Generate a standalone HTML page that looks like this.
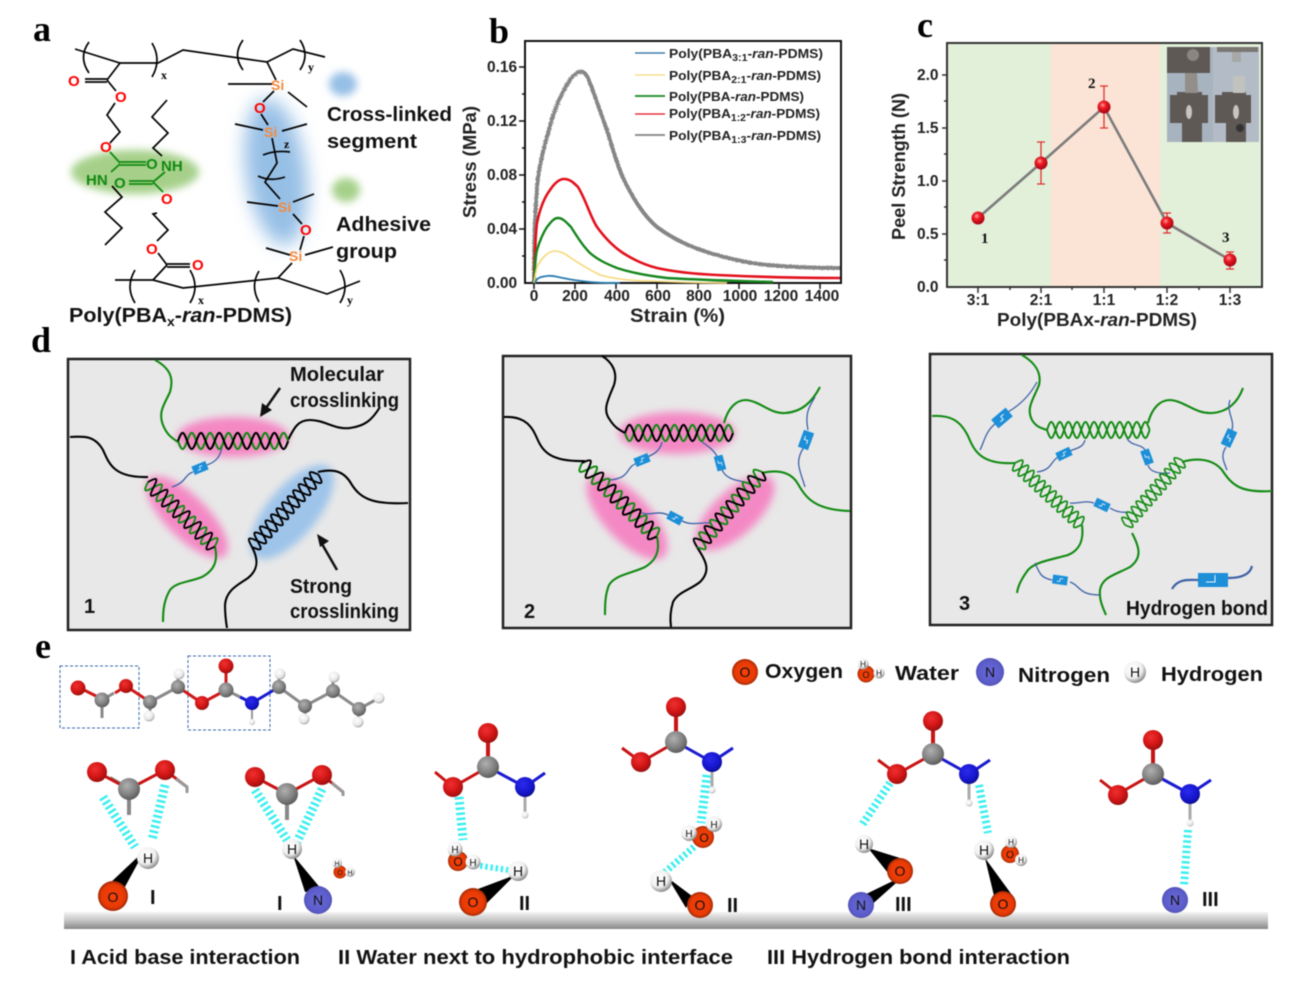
<!DOCTYPE html>
<html><head><meta charset="utf-8"><style>
html,body{margin:0;padding:0;background:#fff}
svg{display:block;filter:blur(.4px)}
text{font-family:"Liberation Sans",sans-serif}
.b{font-weight:bold}
.l{font-family:"Liberation Serif",serif;font-weight:bold;font-size:36px}
.t{font-weight:bold;font-size:20px;fill:#111}
.n{fill:none;stroke:#000;stroke-width:1.7}
.g{fill:none;stroke:#118a11;stroke-width:2.1}
.k{fill:none;stroke:#000;stroke-width:2.1}
.c{fill:none;stroke:#3d62a8;stroke-width:1.3}
.h{stroke:#36eef0;stroke-width:9;stroke-dasharray:2.4 2.8;fill:none}
.o2{fill:#f00;font-size:15px;font-weight:bold}
.si{fill:#f58a3c;font-size:14px;font-weight:bold}
.gt{fill:#118a11;font-size:15px;font-weight:bold}
.ax{font-weight:bold;font-size:15.5px;fill:#222}
.at{font-size:14px;fill:#111;text-anchor:middle}
</style></head><body>
<svg width="1316" height="987" viewBox="0 0 1316 987" xmlns="http://www.w3.org/2000/svg">
<defs>
<radialGradient id="rd" cx=".4" cy=".35" r=".7"><stop offset="0" stop-color="#f03030"/><stop offset=".6" stop-color="#d01414"/><stop offset="1" stop-color="#901010"/></radialGradient>
<radialGradient id="gy" cx=".4" cy=".35" r=".7"><stop offset="0" stop-color="#b0b0b0"/><stop offset=".6" stop-color="#808080"/><stop offset="1" stop-color="#555"/></radialGradient>
<radialGradient id="bl" cx=".4" cy=".35" r=".7"><stop offset="0" stop-color="#2a2af0"/><stop offset=".7" stop-color="#1414c8"/><stop offset="1" stop-color="#0c0c80"/></radialGradient>
<radialGradient id="wh" cx=".4" cy=".35" r=".7"><stop offset="0" stop-color="#fff"/><stop offset=".65" stop-color="#e8e8e8"/><stop offset="1" stop-color="#999"/></radialGradient>
<radialGradient id="ox" cx=".5" cy=".5" r=".55"><stop offset="0" stop-color="#f84008"/><stop offset=".7" stop-color="#e83a06"/><stop offset="1" stop-color="#7a2204"/></radialGradient>
<radialGradient id="nt" cx=".5" cy=".5" r=".55"><stop offset="0" stop-color="#6a6ad8"/><stop offset=".8" stop-color="#5a5ac8"/><stop offset="1" stop-color="#3c3c90"/></radialGradient>
<radialGradient id="hy" cx=".4" cy=".35" r=".7"><stop offset="0" stop-color="#fff"/><stop offset=".6" stop-color="#f0f0f0"/><stop offset="1" stop-color="#777"/></radialGradient>
<radialGradient id="rp" cx=".4" cy=".35" r=".7"><stop offset="0" stop-color="#ff9a9a"/><stop offset=".35" stop-color="#ee1c24"/><stop offset="1" stop-color="#a00010"/></radialGradient>
<linearGradient id="sf" x1="0" y1="0" x2="0" y2="1"><stop offset="0" stop-color="#f4f4f4"/><stop offset=".5" stop-color="#c4c4c4"/><stop offset="1" stop-color="#888"/></linearGradient>
<filter id="bl4" x="-30%" y="-50%" width="160%" height="200%"><feGaussianBlur stdDeviation="4"/></filter>
<filter id="bl8" x="-60%" y="-30%" width="220%" height="160%"><feGaussianBlur stdDeviation="9"/></filter>
<filter id="ns" x="-5%" y="-5%" width="110%" height="110%"><feTurbulence type="fractalNoise" baseFrequency=".9" numOctaves="1" seed="3"/><feDisplacementMap in="SourceGraphic" scale="3"/></filter>
<path id="s1" fill="none" d="M0,0c3.8,-10.7 5.2,-10.7 9,0s5.2,10.7 9,0s5.2,-10.7 9,0s5.2,10.7 9,0s5.2,-10.7 9,0s5.2,10.7 9,0s5.2,-10.7 9,0s5.2,10.7 9,0s5.2,-10.7 9,0s5.2,10.7 9,0s5.2,-10.7 9,0s5.2,10.7 9,0"/>
<path id="s2" fill="none" d="M0,0c3.8,10.7 5.2,10.7 9,0s5.2,-10.7 9,0s5.2,10.7 9,0s5.2,-10.7 9,0s5.2,10.7 9,0s5.2,-10.7 9,0s5.2,10.7 9,0s5.2,-10.7 9,0s5.2,10.7 9,0s5.2,-10.7 9,0s5.2,10.7 9,0s5.2,-10.7 9,0"/>
<g id="bk"><rect x="-7.5" y="-4.5" width="15" height="9" fill="#1c8fd8"/><path d="M-3,1.5h3v-3h3" fill="none" stroke="#e8f4ff" stroke-width=".8"/></g>
</defs>

<!-- labels -->
<text class="l" x="33" y="41">a</text>
<text class="l" x="489" y="43">b</text>
<text class="l" x="917" y="37">c</text>
<text class="l" x="31" y="352">d</text>
<text class="l" x="35" y="658">e</text>

<!-- PANEL A -->
<ellipse cx="135" cy="172" rx="64" ry="22" fill="#a6d08a" filter="url(#bl4)"/>
<ellipse cx="276" cy="172" rx="30" ry="74" fill="#96bfe6" filter="url(#bl8)" transform="rotate(-8 276 172)"/>
<ellipse cx="343" cy="84" rx="14" ry="12" fill="#96bfe6" filter="url(#bl4)"/>
<ellipse cx="346" cy="190" rx="14" ry="12" fill="#a6d08a" filter="url(#bl4)"/>
<g class="n">
<path class="n" d="M75,49L120,63H158L183,50L267,62L293,49L325,57"/>
<path class="n" d="M89,42Q78,57 89,73M152,43Q162,60 152,77M243,40Q232,55 243,70M300,40Q310,55 300,70"/>
<path class="n" d="M120,63L107,80M85,79H107M85,82H107M107,80L116,91"/>
<path class="n" d="M115,103L107,115L120,132L110,143"/>
<path class="n" d="M167,100L152,117L168,133L153,148L162,156"/>
<path class="n" d="M112,186L122,197L105,212L122,228L105,245"/>
<path class="n" d="M157,213L153,214L168,230L157,241M158,253L167,265M167,264H190M167,267H190M167,265L153,280"/>
<path class="n" d="M115,280H153L183,288L278,278L327,294L360,281"/>
<path class="n" d="M135,270Q125,287 135,303M190,270Q200,287 190,303M259,271Q250,286 259,302M340,270Q350,287 340,303"/>
<path class="n" d="M267,62L276,80M228,84H272M288,92L307,107M274,91L263,102M261,114L268,125M235,124L263,130M282,131L307,124"/>
<path class="n" d="M272,138L277,163L265,182L280,199M263,155Q275,150 290,152M258,176Q270,182 285,177"/>
<path class="n" d="M247,202L278,206M293,202L314,194M293,214L302,224M304,236L300,250M266,248L290,255M305,255L333,247M292,263L278,278"/>
</g>
<g fill="none" stroke="#118a11" stroke-width="1.8">
<path d="M110,152L120,163M120,162H146M120,165H146M120,164L111,172"/>
<path d="M165,172L153,182M129,181H153M129,184H153M153,182L163,192"/>
</g>
<text class="o2" x="68" y="86">O</text><text class="o2" x="115" y="102">O</text><text class="o2" x="100" y="152">O</text>
<text class="o2" x="146" y="169" style="fill:#118a11">O</text><text class="gt" x="161" y="171">NH</text><text class="gt" x="86" y="185">HN</text>
<text class="o2" x="114" y="188" style="fill:#118a11">O</text><text class="o2" x="161" y="204">O</text><text class="o2" x="146" y="254">O</text><text class="o2" x="192" y="270">O</text>
<text class="o2" x="254" y="113">O</text><text class="o2" x="300" y="235">O</text>
<text class="si" x="271" y="90">Si</text><text class="si" x="264" y="137">Si</text><text class="si" x="278" y="212">Si</text><text class="si" x="289" y="261">Si</text>
<g style="font-family:'Liberation Serif',serif;font-weight:bold;font-size:12px">
<text x="161" y="79" style="font-family:'Liberation Serif',serif">x</text><text x="308" y="71" style="font-family:'Liberation Serif',serif">y</text><text x="284" y="148" style="font-family:'Liberation Serif',serif">z</text><text x="198" y="304" style="font-family:'Liberation Serif',serif">x</text><text x="347" y="304" style="font-family:'Liberation Serif',serif">y</text>
</g>
<text class="t" x="327" y="121" textLength="125" lengthAdjust="spacingAndGlyphs">Cross-linked</text>
<text class="t" x="327" y="148" textLength="90" lengthAdjust="spacingAndGlyphs">segment</text>
<text class="t" x="336" y="231" textLength="95" lengthAdjust="spacingAndGlyphs">Adhesive</text>
<text class="t" x="336" y="258" textLength="61" lengthAdjust="spacingAndGlyphs">group</text>
<text class="t" x="69" y="322" textLength="223" lengthAdjust="spacingAndGlyphs">Poly(PBA<tspan dy="4" font-size="13">x</tspan><tspan dy="-4">-</tspan><tspan font-style="italic">ran</tspan>-PDMS)</text>

<!-- PANEL B -->
<rect x="525" y="41" width="316" height="242" fill="#fff" stroke="#111" stroke-width="2"/>
<path d="M525,67h-6M525,121h-6M525,175h-6M525,229h-6M534,283v6M575,283v6M616,283v6M657,283v6M698,283v6M739,283v6M779,283v6M820,283v6M525,94h-3M525,148h-3M525,202h-3M525,256h-3" stroke="#111" stroke-width="1.5" fill="none"/>
<text class="ax" x="487" y="72">0.16</text><text class="ax" x="487" y="126">0.12</text><text class="ax" x="487" y="180">0.08</text><text class="ax" x="487" y="234">0.04</text><text class="ax" x="487" y="288">0.00</text>
<g>
<text class="ax" x="534" y="301" text-anchor="middle">0</text><text class="ax" x="575" y="301" text-anchor="middle">200</text><text class="ax" x="617" y="301" text-anchor="middle">400</text><text class="ax" x="658" y="301" text-anchor="middle">600</text><text class="ax" x="699" y="301" text-anchor="middle">800</text><text class="ax" x="740" y="301" text-anchor="middle">1000</text><text class="ax" x="781" y="301" text-anchor="middle">1200</text><text class="ax" x="822" y="301" text-anchor="middle">1400</text>
</g>
<text class="b" x="630" y="322" font-size="19" fill="#222" textLength="95" lengthAdjust="spacingAndGlyphs">Strain (%)</text>
<text class="b" font-size="18" fill="#222" transform="translate(476,218) rotate(-90)" textLength="112" lengthAdjust="spacingAndGlyphs">Stress (MPa)</text>
<g fill="none" stroke-linejoin="round">
<path d="M534,283C534,240 535,205 538,177C541,160 544,146 548,133C552,118 556,106 561,96C566,86 571,76 577,73C582,70 585,72 588,78C594,92 600,112 607,130C613,150 618,167 624,180C634,200 644,216 657,227C673,239 690,247 710,253C730,259 748,263 767,265C790,267 815,268 840,268" stroke="#868686" stroke-width="4" filter="url(#ns)"/>
<path d="M534,283C535,255 535,238 537,223C540,208 544,198 550,190C554,184 559,179 564,179C570,179 574,183 578,187C586,200 590,216 597,227C605,238 614,247 623,253C634,260 645,265 657,268C675,272 695,274 717,275C760,277 800,278 840,278" stroke="#e3101c" stroke-width="2.6"/>
<path d="M534,283C535,268 535,258 537,250C540,240 543,233 547,227C551,222 554,218 558,218C563,218 567,223 571,227C578,238 583,246 590,253C598,260 607,264 617,268C632,273 650,276 667,278C700,280 740,281 773,282" stroke="#15861c" stroke-width="2.4"/>
<path d="M534,283C535,275 536,271 537,267C541,259 547,252 554,251C561,251 565,254 571,258C580,264 590,270 600,275C615,279 632,281 650,281C675,282 700,283 727,283" stroke="#f6d878" stroke-width="1.6"/>
<path d="M535,283C537,277 541,277 547,276C553,275 557,277 563,278C572,280 580,281 590,282C600,283 610,283 620,283" stroke="#2a7cb0" stroke-width="1.8"/>
</g>
<g stroke-width="1.3" fill="none"><path d="M635,53h30" stroke="#1c6a9c"/><path d="M635,75h30" stroke="#f5d878"/><path d="M635,96h30" stroke="#15861c" stroke-width="1.8"/><path d="M635,114h30" stroke="#e3101c"/><path d="M635,135h30" stroke="#909090" stroke-width="2"/></g>
<g class="b" font-size="13" fill="#222">
<text x="669" y="58" textLength="154" lengthAdjust="spacingAndGlyphs">Poly(PBA<tspan dy="3" font-size="10">3:1</tspan><tspan dy="-3">-</tspan><tspan font-style="italic">ran</tspan>-PDMS)</text>
<text x="669" y="80" textLength="152" lengthAdjust="spacingAndGlyphs">Poly(PBA<tspan dy="3" font-size="10">2:1</tspan><tspan dy="-3">-</tspan><tspan font-style="italic">ran</tspan>-PDMS)</text>
<text x="669" y="101" textLength="135" lengthAdjust="spacingAndGlyphs">Poly(PBA-<tspan font-style="italic">ran</tspan>-PDMS)</text>
<text x="669" y="118" textLength="151" lengthAdjust="spacingAndGlyphs">Poly(PBA<tspan dy="3" font-size="10">1:2</tspan><tspan dy="-3">-</tspan><tspan font-style="italic">ran</tspan>-PDMS)</text>
<text x="669" y="140" textLength="152" lengthAdjust="spacingAndGlyphs">Poly(PBA<tspan dy="3" font-size="10">1:3</tspan><tspan dy="-3">-</tspan><tspan font-style="italic">ran</tspan>-PDMS)</text>
</g>

<!-- PANEL C -->
<rect x="947" y="43" width="315" height="244" fill="#e2efd9"/>
<rect x="1051" y="43" width="109" height="244" fill="#fbe4d5"/>
<rect x="1167" y="47" width="92" height="95" fill="#a7b3bf"/>
<rect x="1213" y="47" width="46" height="95" fill="#b3bcc6"/>
<g fill="#5e5955">
<rect x="1167" y="47" width="43" height="26"/><rect x="1170" y="95" width="38" height="28"/><rect x="1177" y="92" width="25" height="5"/><rect x="1182" y="123" width="20" height="19"/>
<rect x="1217" y="47" width="41" height="5" fill="#7a7672"/><rect x="1215" y="95" width="36" height="28"/><rect x="1222" y="92" width="24" height="5"/><rect x="1226" y="123" width="20" height="19"/>
</g>
<path d="M1185,73h12l1,20h-13z" fill="#928e8a"/><rect x="1232" y="52" width="9" height="10" fill="#a8a8a8"/><rect x="1233" y="76" width="12" height="17" fill="#c2c2be"/>
<circle cx="1193" cy="55" r="6" fill="#8a8580"/><ellipse cx="1189" cy="112" rx="3" ry="7" fill="#c8c4c0"/><ellipse cx="1236" cy="112" rx="3" ry="7" fill="#c8c4c0"/><circle cx="1240" cy="128" r="4" fill="#333"/>
<rect x="947" y="43" width="315" height="244" fill="none" stroke="#333" stroke-width="2"/>
<path d="M947,234h-5M947,181h-5M947,128h-5M947,75h-5M978,287v6M1041,287v6M1104,287v6M1167,287v6M1230,287v6M947,260h-3M947,207h-3M947,154h-3M947,101h-3M1010,287v3M1072,287v3M1135,287v3M1199,287v3" stroke="#333" stroke-width="1.5" fill="none"/>
<text class="ax" x="917" y="80">2.0</text><text class="ax" x="917" y="133">1.5</text><text class="ax" x="917" y="186">1.0</text><text class="ax" x="917" y="239">0.5</text><text class="ax" x="917" y="292">0.0</text>
<text class="ax" x="978" y="305" text-anchor="middle">3:1</text><text class="ax" x="1041" y="305" text-anchor="middle">2:1</text><text class="ax" x="1104" y="305" text-anchor="middle">1:1</text><text class="ax" x="1167" y="305" text-anchor="middle">1:2</text><text class="ax" x="1230" y="305" text-anchor="middle">1:3</text>
<text class="b" x="997" y="326" font-size="18" fill="#222" textLength="200" lengthAdjust="spacingAndGlyphs">Poly(PBAx-<tspan font-style="italic">ran</tspan>-PDMS)</text>
<text class="b" font-size="18" fill="#222" transform="translate(905,240) rotate(-90)" textLength="147" lengthAdjust="spacingAndGlyphs">Peel Strength (N)</text>
<path d="M978,218L1041,163L1104,107L1167,223L1230,260" fill="none" stroke="#7c7c7c" stroke-width="2.6"/>
<path d="M1041,142V184M1037,142h8M1037,184h8M1104,86V128M1100,86h8M1100,128h8M1167,213V233M1163,213h8M1163,233h8M1230,252V269M1226,252h8M1226,269h8" stroke="#e03030" stroke-width="1.3" fill="none"/>
<g fill="url(#rp)"><circle cx="978" cy="218" r="6.5"/><circle cx="1041" cy="163" r="6.5"/><circle cx="1104" cy="107" r="6.5"/><circle cx="1167" cy="223" r="6.5"/><circle cx="1230" cy="260" r="6.5"/></g>
<g style="font-family:'Liberation Serif',serif;font-weight:bold;font-size:15px" fill="#111">
<text x="981" y="243" style="font-family:'Liberation Serif',serif">1</text><text x="1088" y="88" style="font-family:'Liberation Serif',serif">2</text><text x="1222" y="242" style="font-family:'Liberation Serif',serif">3</text>
</g>

<!-- PANEL D1 -->
<rect x="68" y="359" width="342" height="271" fill="#e8e8e8" stroke="#222" stroke-width="2.5"/>
<ellipse cx="233" cy="437" rx="56" ry="20" fill="#f488c4" filter="url(#bl4)"/>
<ellipse cx="187" cy="517" rx="54" ry="21" fill="#f488c4" filter="url(#bl4)" transform="rotate(45 187 517)"/>
<ellipse cx="292" cy="512" rx="58" ry="25" fill="#9ec4ea" filter="url(#bl4)" transform="rotate(-50 292 512)"/>
<path class="g" d="M155,360C170,368 174,378 170,392C164,405 158,412 163,425C167,435 172,438 178,442"/>
<path class="k" d="M288,440C294,428 298,420 310,420C325,420 335,430 350,428C365,426 372,420 380,407"/>
<path class="k" d="M70,437C85,436 95,436 103,450C109,463 113,478 148,477"/>
<path class="g" d="M215,547C218,560 215,570 202,577C190,582 176,582 170,590C164,600 163,610 163,622"/>
<path class="k" d="M318,472C335,468 345,472 352,485C360,497 370,505 408,503"/>
<path class="k" d="M252,547C259,560 258,570 248,578C238,585 226,590 225,605C225,615 226,622 227,628"/>
<path class="c" d="M222,447C220,458 215,462 207,465M193,472C184,475 187,482 172,487"/>
<use href="#bk" transform="translate(200,468) rotate(-22)"/>
<g transform="translate(178,441) scale(1.02,1)" fill="none" stroke-width="2.1"><use href="#s2" stroke="#118a11"/><use href="#s1" stroke="#000"/></g>
<g transform="translate(148,482) rotate(44) scale(.86,.95)" fill="none" stroke-width="2.1"><use href="#s2" stroke="#118a11"/><use href="#s1" stroke="#000"/></g>
<g transform="translate(252,547) rotate(-47.5) scale(.91,.95)" fill="none" stroke-width="2.1" stroke="#000"><use href="#s2"/><use href="#s1"/></g>
<path d="M280,388L266,408" stroke="#111" stroke-width="2.5" fill="none"/><path d="M260,417l2,-14l10,7z" fill="#111"/>
<path d="M337,570L322,544" stroke="#111" stroke-width="2.5" fill="none"/><path d="M317,534l12,7l-9,6z" fill="#111"/>
<text class="t" x="290" y="381" textLength="94" lengthAdjust="spacingAndGlyphs">Molecular</text>
<text class="t" x="290" y="407" textLength="109" lengthAdjust="spacingAndGlyphs">crosslinking</text>
<text class="t" x="290" y="593" textLength="62" lengthAdjust="spacingAndGlyphs">Strong</text>
<text class="t" x="290" y="618" textLength="109" lengthAdjust="spacingAndGlyphs">crosslinking</text>
<text class="t" x="84" y="613">1</text>

<!-- PANEL D2 -->
<rect x="503" y="356" width="348" height="272" fill="#e8e8e8" stroke="#222" stroke-width="2.5"/>
<ellipse cx="677" cy="433" rx="58" ry="21" fill="#f488c4" filter="url(#bl4)"/>
<ellipse cx="627" cy="517" rx="54" ry="23" fill="#f488c4" filter="url(#bl4)" transform="rotate(47 627 517)"/>
<ellipse cx="735" cy="513" rx="50" ry="22" fill="#f488c4" filter="url(#bl4)" transform="rotate(-43 735 513)"/>
<path class="k" d="M602,356C612,362 618,372 614,385C608,400 602,410 610,420C615,428 620,430 625,433"/>
<path class="k" d="M504,417C520,416 530,422 536,436C542,450 548,462 585,461"/>
<path class="g" d="M724,423C728,408 736,400 746,400C760,401 770,414 785,413C802,412 812,402 820,387"/>
<path class="g" d="M762,473C775,470 790,470 798,484C806,498 815,510 850,511"/>
<path class="g" d="M657,537C660,550 657,560 645,567C630,574 615,575 609,585C605,595 605,605 605,615"/>
<path class="k" d="M697,547C705,560 712,570 700,582C690,590 678,592 673,602C670,612 670,620 671,627"/>
<path class="c" d="M662,442C660,452 652,455 645,458M638,463C625,466 632,478 610,480"/>
<path class="c" d="M702,442C708,446 714,450 718,458M722,470C726,478 733,480 745,482"/>
<path class="c" d="M642,513C650,516 658,510 668,515M682,521C692,526 700,522 710,523"/>
<path class="c" d="M815,397C808,408 805,415 808,430M804,447C794,462 800,470 805,487"/>
<use href="#bk" transform="translate(642,460) rotate(-22)"/><use href="#bk" transform="translate(720,463) rotate(75)"/><use href="#bk" transform="translate(675,518) rotate(28)"/><use href="#bk" transform="translate(806,440) rotate(-70) scale(1.2)"/>
<g transform="translate(625,433)" fill="none" stroke-width="2.1"><use href="#s2" stroke="#118a11"/><use href="#s1" stroke="#000"/></g>
<g transform="translate(582,463) rotate(44.6) scale(.97,.95)" fill="none" stroke-width="2.1"><use href="#s2" stroke="#118a11"/><use href="#s1" stroke="#000"/></g>
<g transform="translate(697,547) rotate(-49) scale(.92,.95)" fill="none" stroke-width="2.1"><use href="#s2" stroke="#118a11"/><use href="#s1" stroke="#000"/></g>
<text class="t" x="524" y="618">2</text>

<!-- PANEL D3 -->
<rect x="930" y="354" width="342" height="271" fill="#e8e8e8" stroke="#222" stroke-width="2.5"/>
<path class="g" d="M1022,355C1034,362 1042,372 1039,385C1033,400 1026,408 1032,420C1037,428 1042,428 1047,430"/>
<path class="g" d="M932,416C950,415 960,420 968,436C974,450 980,465 1015,463"/>
<path class="g" d="M1148,423C1152,408 1160,400 1170,400C1185,401 1195,414 1212,413C1228,412 1238,402 1243,388"/>
<path class="g" d="M1182,462C1195,458 1212,458 1222,470C1232,485 1240,493 1272,491"/>
<path class="g" d="M1082,525C1084,540 1080,550 1068,555C1050,560 1035,562 1028,570C1022,578 1018,585 1017,593"/>
<path class="g" d="M1132,533C1140,548 1142,558 1130,567C1115,575 1102,577 1100,590C1099,600 1103,608 1106,615"/>
<path class="c" d="M1037,382C1030,395 1020,405 1008,412M996,423C985,432 985,440 980,450"/>
<path class="c" d="M1085,440C1083,448 1076,448 1070,451M1058,457C1050,462 1052,470 1037,472"/>
<path class="c" d="M1127,438C1130,446 1142,444 1145,450M1148,465C1150,472 1158,474 1170,473"/>
<path class="c" d="M1070,503C1078,504 1085,500 1094,503M1110,508C1116,512 1122,513 1130,512"/>
<path class="c" d="M1230,400C1226,412 1235,420 1232,430M1226,447C1220,456 1224,462 1227,470"/>
<path class="c" d="M1035,563C1040,575 1042,578 1052,580M1070,582C1080,585 1078,595 1100,595"/>
<use href="#bk" transform="translate(1002,418) rotate(-40) scale(1.25)"/><use href="#bk" transform="translate(1064,454) rotate(-25)"/><use href="#bk" transform="translate(1147,457) rotate(70)"/><use href="#bk" transform="translate(1102,505) rotate(25)"/><use href="#bk" transform="translate(1229,438) rotate(-65) scale(1.15)"/><use href="#bk" transform="translate(1060,580) rotate(8)"/>
<g transform="translate(1047,430) scale(.95,1)" fill="none" stroke-width="2" stroke="#118a11"><use href="#s2"/><use href="#s1"/></g>
<g transform="translate(1015,463) rotate(42.8) scale(.84,.88)" fill="none" stroke-width="2" stroke="#118a11"><use href="#s2"/><use href="#s1"/></g>
<g transform="translate(1125,525) rotate(-48.7) scale(.8,.88)" fill="none" stroke-width="2" stroke="#118a11"><use href="#s2"/><use href="#s1"/></g>
<path d="M1172,589C1178,578 1190,580 1198,580M1228,578C1240,578 1250,575 1252,566" fill="none" stroke="#3d62a8" stroke-width="2.2"/>
<rect x="1198" y="573" width="30" height="14" fill="#1c8fd8"/><path d="M1206,582h9v-7" stroke="#e8f4ff" fill="none"/>
<text class="t" x="959" y="610">3</text>
<text class="t" x="1126" y="615" textLength="142" lengthAdjust="spacingAndGlyphs">Hydrogen bond</text>

<!-- PANEL E molecule -->
<rect x="60" y="666" width="79" height="62" fill="none" stroke="#3a66a8" stroke-dasharray="3 2"/>
<rect x="188" y="656" width="82" height="74" fill="none" stroke="#3a66a8" stroke-dasharray="3 2"/>
<g fill="none" stroke-width="3">
<path stroke="#8a8a8a" d="M102,700V718M102,700L114,693M150,702L178,687M226,690L240,697M279,687L305,706L333,691L359,709L379,698M359,709L358,722M150,702V716M178,687V674M279,687V674M305,706V719M333,691V677"/>
<path stroke="#d01818" d="M78,687L102,699M115,693L126,686L150,702M178,687L202,703L226,690M226,690V666"/>
<path stroke="#1a1ad0" d="M240,697L252,703L279,687"/>
<path d="M252,703V722" stroke="#999" stroke-width="2"/>
</g>
<g>
<circle cx="78" cy="688" r="7.5" fill="url(#rd)"/><circle cx="102" cy="700" r="7.5" fill="url(#gy)"/><circle cx="126" cy="686" r="7" fill="url(#rd)"/>
<circle cx="150" cy="702" r="7" fill="url(#gy)"/><circle cx="149" cy="716" r="5.5" fill="url(#wh)"/><circle cx="178" cy="687" r="7" fill="url(#gy)"/><circle cx="179" cy="674" r="5.5" fill="url(#wh)"/>
<circle cx="202" cy="703" r="7" fill="url(#rd)"/><circle cx="226" cy="690" r="7.5" fill="url(#gy)"/><circle cx="226" cy="666" r="7.5" fill="url(#rd)"/>
<circle cx="252" cy="703" r="7" fill="url(#bl)"/><circle cx="252" cy="722" r="3" fill="url(#wh)"/>
<circle cx="279" cy="687" r="7" fill="url(#gy)"/><circle cx="280" cy="674" r="5.5" fill="url(#wh)"/><circle cx="305" cy="706" r="7" fill="url(#gy)"/><circle cx="304" cy="719" r="5.5" fill="url(#wh)"/>
<circle cx="333" cy="691" r="7" fill="url(#gy)"/><circle cx="334" cy="677" r="5.5" fill="url(#wh)"/><circle cx="359" cy="709" r="7" fill="url(#gy)"/><circle cx="358" cy="722" r="5.5" fill="url(#wh)"/><circle cx="379" cy="698" r="5.5" fill="url(#wh)"/>
</g>

<!-- legend -->
<circle cx="745" cy="672" r="13" fill="url(#ox)"/><text class="at" x="745" y="677">O</text>
<text class="t" x="765" y="678" textLength="78" lengthAdjust="spacingAndGlyphs">Oxygen</text>
<circle cx="866" cy="674" r="8.5" fill="url(#ox)"/><circle cx="863" cy="664" r="5.5" fill="url(#hy)"/><circle cx="879" cy="673" r="5.5" fill="url(#hy)"/>
<text class="at" x="866" y="678" style="font-size:9px">O</text><text class="at" x="863" y="667" style="font-size:8px">H</text><text class="at" x="879" y="676" style="font-size:8px">H</text>
<text class="t" x="895" y="680" textLength="64" lengthAdjust="spacingAndGlyphs">Water</text>
<circle cx="990" cy="672" r="14" fill="url(#nt)"/><text class="at" x="990" y="677">N</text>
<text class="t" x="1018" y="682" textLength="92" lengthAdjust="spacingAndGlyphs">Nitrogen</text>
<circle cx="1135" cy="672" r="11" fill="url(#hy)"/><text class="at" x="1135" y="677">H</text>
<text class="t" x="1161" y="681" textLength="102" lengthAdjust="spacingAndGlyphs">Hydrogen</text>

<!-- surface -->
<rect x="64" y="912" width="1204" height="17" fill="url(#sf)"/>

<!-- group 1 -->
<path class="h" d="M103,797L135,847M165,785L152,840"/>
<path d="M129,789V815M110,778L129,789" stroke="#888" stroke-width="4"/><path d="M97,772L129,789M129,789L165,770L187,787" stroke="#c81414" stroke-width="3" fill="none"/><path d="M176,779L187,787V793" stroke="#999" stroke-width="3" fill="none"/>
<circle cx="97" cy="772" r="10" fill="url(#rd)"/><circle cx="129" cy="789" r="11" fill="url(#gy)"/><circle cx="165" cy="770" r="10" fill="url(#rd)"/>
<path d="M145,850L108,885L120,896z" fill="#000"/>
<circle cx="113" cy="896" r="15" fill="url(#ox)"/><circle cx="148" cy="858" r="11" fill="url(#hy)"/><text class="at" x="113" y="902">O</text><text class="at" x="148" y="863">H</text>
<text class="t" x="150" y="904">I</text>
<!-- group 2 -->
<path class="h" d="M255,790L287,840M322,789L297,842"/>
<path d="M287,794V820" stroke="#888" stroke-width="4"/><path d="M255,777L287,794L322,775L343,792" stroke="#c81414" stroke-width="3" fill="none"/><path d="M332,783L343,792V796" stroke="#999" stroke-width="3" fill="none"/>
<circle cx="255" cy="777" r="10" fill="url(#rd)"/><circle cx="287" cy="794" r="11" fill="url(#gy)"/><circle cx="322" cy="775" r="10" fill="url(#rd)"/>
<path d="M293,855L305,892L322,890z" fill="#000"/>
<circle cx="318" cy="900" r="14" fill="url(#nt)"/><circle cx="292" cy="849" r="10" fill="url(#hy)"/><text class="at" x="318" y="905">N</text><text class="at" x="292" y="854">H</text>
<text class="t" x="277" y="910">I</text>
<circle cx="340" cy="872" r="6.5" fill="url(#ox)"/><circle cx="337" cy="863" r="5" fill="url(#hy)"/><circle cx="350" cy="872" r="5" fill="url(#hy)"/>
<text class="at" x="340" y="875" style="font-size:7px">O</text><text class="at" x="337" y="866" style="font-size:7px">H</text><text class="at" x="350" y="875" style="font-size:7px">H</text>
<!-- group 3 -->
<path class="h" d="M459,797L463,840"/><path class="h" style="stroke-width:6" d="M475,865L508,870"/>
<path d="M488,767V733" stroke="#c81414" stroke-width="4"/><path d="M488,767L525,787L545,773" stroke="#1a1ad0" stroke-width="3" fill="none"/><path d="M488,767L453,787L435,772" stroke="#c81414" stroke-width="3" fill="none"/><path d="M525,787V815" stroke="#aaa" stroke-width="3"/>
<circle cx="488" cy="733" r="10" fill="url(#rd)"/><circle cx="488" cy="767" r="11" fill="url(#gy)"/><circle cx="453" cy="787" r="10" fill="url(#rd)"/><circle cx="525" cy="787" r="10" fill="url(#bl)"/><circle cx="525" cy="815" r="3.5" fill="url(#wh)"/>
<circle cx="458" cy="861" r="10" fill="url(#ox)"/><circle cx="455" cy="849" r="7.5" fill="url(#hy)"/><circle cx="473" cy="862" r="7.5" fill="url(#hy)"/>
<text class="at" x="458" y="866" style="font-size:12px">O</text><text class="at" x="455" y="853" style="font-size:10px">H</text><text class="at" x="473" y="866" style="font-size:10px">H</text>
<path d="M515,875L470,892L478,912z" fill="#000"/>
<circle cx="473" cy="902" r="14" fill="url(#ox)"/><circle cx="518" cy="871" r="10" fill="url(#hy)"/><text class="at" x="473" y="907">O</text><text class="at" x="518" y="876">H</text>
<text class="t" x="519" y="910">II</text>
<!-- group 4 -->
<path class="h" d="M707,775L701,823"/><path class="h" style="stroke-width:7" d="M694,847L665,872"/>
<path d="M676,742V707" stroke="#c81414" stroke-width="4"/><path d="M676,742L712,762L733,748" stroke="#1a1ad0" stroke-width="3" fill="none"/><path d="M676,742L641,762L622,748" stroke="#c81414" stroke-width="3" fill="none"/><path d="M712,762V790" stroke="#aaa" stroke-width="3"/>
<circle cx="676" cy="707" r="10" fill="url(#rd)"/><circle cx="676" cy="742" r="11" fill="url(#gy)"/><circle cx="641" cy="762" r="10" fill="url(#rd)"/><circle cx="712" cy="762" r="10" fill="url(#bl)"/><circle cx="712" cy="790" r="3.5" fill="url(#wh)"/>
<circle cx="703" cy="837" r="11" fill="url(#ox)"/><circle cx="689" cy="833" r="8" fill="url(#hy)"/><circle cx="714" cy="824" r="8" fill="url(#hy)"/>
<text class="at" x="704" y="842" style="font-size:12px">O</text><text class="at" x="689" y="837" style="font-size:10px">H</text><text class="at" x="714" y="828" style="font-size:10px">H</text>
<path d="M668,878L692,896L686,908z" fill="#000"/>
<circle cx="700" cy="905" r="13" fill="url(#ox)"/><circle cx="661" cy="881" r="11" fill="url(#hy)"/><text class="at" x="700" y="910">O</text><text class="at" x="661" y="886">H</text>
<text class="t" x="727" y="912">II</text>
<!-- group 5 -->
<path class="h" style="stroke-width:8" d="M890,783L862,825M979,785L988,833"/>
<path d="M933,754V721" stroke="#c81414" stroke-width="4"/><path d="M933,754L969,774L990,760" stroke="#1a1ad0" stroke-width="3" fill="none"/><path d="M933,754L897,774L878,760" stroke="#c81414" stroke-width="3" fill="none"/><path d="M969,774V803" stroke="#aaa" stroke-width="3"/>
<circle cx="933" cy="721" r="10" fill="url(#rd)"/><circle cx="933" cy="754" r="11" fill="url(#gy)"/><circle cx="897" cy="774" r="10" fill="url(#rd)"/><circle cx="969" cy="774" r="10" fill="url(#bl)"/><circle cx="969" cy="803" r="3.5" fill="url(#wh)"/>
<path d="M868,848L900,858L892,878z" fill="#000"/><path d="M905,875L858,898L868,908z" fill="#000"/>
<circle cx="861" cy="905" r="13" fill="url(#nt)"/><circle cx="900" cy="871" r="13" fill="url(#ox)"/><circle cx="864" cy="844" r="9" fill="url(#hy)"/>
<text class="at" x="861" y="910">N</text><text class="at" x="900" y="876">O</text><text class="at" x="864" y="849">H</text>
<text class="t" x="895" y="911">III</text>
<path d="M985,858L995,900L1012,895z" fill="#000"/>
<circle cx="1003" cy="904" r="13" fill="url(#ox)"/><circle cx="984" cy="850" r="10" fill="url(#hy)"/><text class="at" x="1003" y="909">O</text><text class="at" x="984" y="855">H</text>
<circle cx="1010" cy="854" r="9" fill="url(#ox)"/><circle cx="1011" cy="842" r="6" fill="url(#hy)"/><circle cx="1021" cy="860" r="6" fill="url(#hy)"/>
<text class="at" x="1010" y="858" style="font-size:10px">O</text><text class="at" x="1011" y="845" style="font-size:8px">H</text><text class="at" x="1021" y="863" style="font-size:8px">H</text>
<!-- group 6 -->
<path class="h" style="stroke-width:8" d="M1188,830L1184,885"/>
<path d="M1153,774V740" stroke="#c81414" stroke-width="4"/><path d="M1153,774L1190,794L1211,780" stroke="#1a1ad0" stroke-width="3" fill="none"/><path d="M1153,774L1118,794L1100,780" stroke="#c81414" stroke-width="3" fill="none"/><path d="M1190,794V823" stroke="#aaa" stroke-width="3"/>
<circle cx="1153" cy="740" r="10" fill="url(#rd)"/><circle cx="1153" cy="774" r="11" fill="url(#gy)"/><circle cx="1118" cy="795" r="10" fill="url(#rd)"/><circle cx="1190" cy="794" r="10" fill="url(#bl)"/><circle cx="1190" cy="823" r="3.5" fill="url(#wh)"/>
<circle cx="1175" cy="900" r="13" fill="url(#nt)"/><text class="at" x="1175" y="905">N</text>
<text class="t" x="1202" y="906">III</text>

<!-- captions -->
<text class="t" x="70" y="964" textLength="230" lengthAdjust="spacingAndGlyphs">I Acid base interaction</text>
<text class="t" x="338" y="964" textLength="395" lengthAdjust="spacingAndGlyphs">II Water next to hydrophobic interface</text>
<text class="t" x="767" y="964" textLength="303" lengthAdjust="spacingAndGlyphs">III Hydrogen bond interaction</text>
</svg>
</body></html>
